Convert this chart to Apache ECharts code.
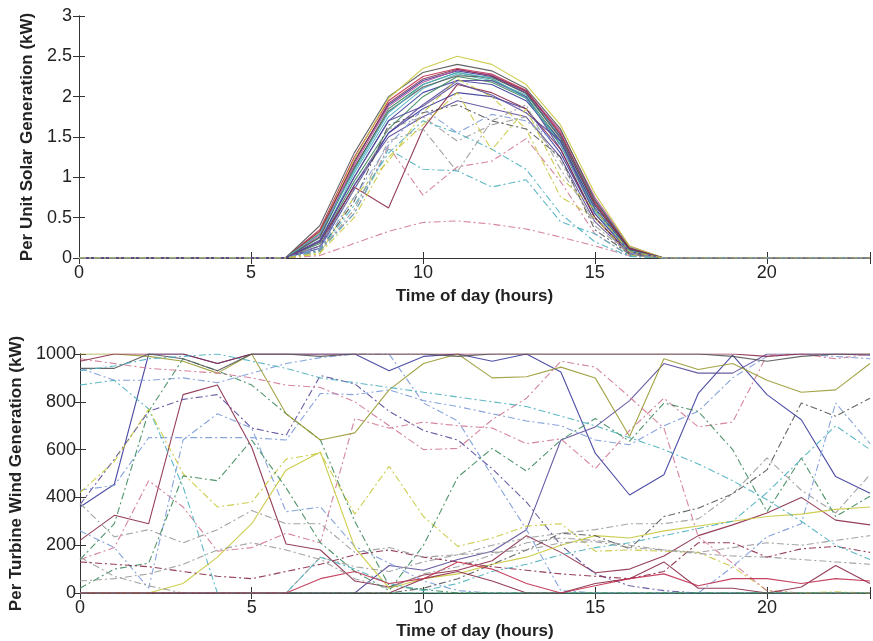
<!DOCTYPE html>
<html><head><meta charset="utf-8">
<script src="https://cdn.jsdelivr.net/npm/echarts@6/dist/echarts.min.js"></script>
<style>html,body{margin:0;padding:0;background:#fff;overflow:hidden}#c{width:873px;height:641px}</style>
</head><body><div id="c"></div>
<script>
// ---- data ----
const hours = [0,1,2,3,4,5,6,7,8,9,10,11,12,13,14,15,16,17,18,19,20,21,22,23];
const xTickLabels = [0,5,10,15,20];
const solarTickLabels = [0,0.5,1,1.5,2,2.5,3];
const windTickLabels = [0,200,400,600,800,1000];

// per unit solar generation (kW), one array per unit
const s01 = [0,0,0,0,0,0,0,0.30,1.20,1.90,2.20,2.32,2.25,2.05,1.50,0.65,0.12,0,0,0,0,0,0,0];
const s02 = [0,0,0,0,0,0,0,0.25,1.10,1.85,2.15,2.30,2.22,2.00,1.45,0.60,0.10,0,0,0,0,0,0,0];
const s03 = [0,0,0,0,0,0,0,0.35,1.25,1.95,2.25,2.35,2.28,2.08,1.55,0.70,0.13,0,0,0,0,0,0,0];
const s04 = [0,0,0,0,0,0,0,0.20,1.05,1.75,2.10,2.28,2.20,2.02,1.52,0.72,0.14,0,0,0,0,0,0,0];
const s05 = [0,0,0,0,0,0,0,0.28,1.15,1.88,2.18,2.33,2.27,2.06,1.58,0.75,0.15,0,0,0,0,0,0,0];
const s06 = [0,0,0,0,0,0,0,0.40,1.30,2.00,2.30,2.40,2.32,2.10,1.60,0.72,0.12,0,0,0,0,0,0,0];
const s07 = [0,0,0,0,0,0,0,0.32,1.22,1.98,2.35,2.50,2.40,2.15,1.65,0.80,0.15,0,0,0,0,0,0,0];
const s08 = [0,0,0,0,0,0,0,0.22,1.00,1.70,2.05,2.20,2.15,1.95,1.45,0.62,0.10,0,0,0,0,0,0,0];
const s09 = [0,0,0,0,0,0,0,0.18,0.95,1.60,2.00,2.25,2.18,1.98,1.40,0.55,0.08,0,0,0,0,0,0,0];
const s10 = [0,0,0,0,0,0,0,0.26,1.12,1.82,2.12,2.26,2.24,2.04,1.48,0.66,0.11,0,0,0,0,0,0,0];
const s11 = [0,0,0,0,0,0,0,0.15,0.90,1.55,1.90,2.20,2.20,2.00,1.35,0.50,0.06,0,0,0,0,0,0,0];
const s12 = [0,0,0,0,0,0,0,0.33,1.18,1.92,2.22,2.34,2.26,2.07,1.53,0.68,0.12,0,0,0,0,0,0,0];
const s13 = [0,0,0,0,0,0,0,0.30,1.08,1.80,2.15,2.30,2.23,1.98,1.42,0.58,0.09,0,0,0,0,0,0,0];
const s14 = [0,0,0,0,0,0,0,0.12,0.85,1.55,1.85,2.05,2.00,1.85,1.30,0.50,0.05,0,0,0,0,0,0,0];
const s15 = [0,0,0,0,0,0,0,0.15,0.90,1.50,1.75,1.95,1.85,1.75,1.25,0.45,0.05,0,0,0,0,0,0,0];
const s16 = [0,0,0,0,0,0,0,0.03,0.18,0.33,0.44,0.46,0.42,0.36,0.26,0.15,0.03,0,0,0,0,0,0,0];
const s17 = [0,0,0,0,0,0,0,0.20,0.88,0.62,1.60,2.15,2.05,1.85,1.35,0.50,0.06,0,0,0,0,0,0,0];
const s18 = [0,0,0,0,0,0,0,0.10,0.55,1.38,0.78,1.13,1.20,1.48,0.95,0.30,0.03,0,0,0,0,0,0,0];
const s19 = [0,0,0,0,0,0,0,0.08,0.55,1.35,1.10,1.08,0.88,0.97,0.45,0.30,0.03,0,0,0,0,0,0,0];
const s20 = [0,0,0,0,0,0,0,0.05,0.76,1.20,1.80,2.22,2.00,1.60,0.76,0.50,0.04,0,0,0,0,0,0,0];
const s21 = [0,0,0,0,0,0,0,0.15,0.85,1.60,1.75,1.45,1.65,1.75,1.20,0.40,0.05,0,0,0,0,0,0,0];
const s22 = [0,0,0,0,0,0,0,0.10,0.70,1.65,1.80,1.90,1.70,1.60,1.25,0.35,0.05,0,0,0,0,0,0,0];
const s23 = [0,0,0,0,0,0,0,0.12,0.75,1.40,1.85,1.55,1.78,1.70,1.40,0.55,0.06,0,0,0,0,0,0,0];
const s24 = [0,0,0,0,0,0,0,0.20,1.00,1.70,1.88,2.17,2.02,1.80,1.45,0.55,0.08,0,0,0,0,0,0,0];
const s25 = [0,0,0,0,0,0,0,0.10,0.65,1.30,1.70,1.55,1.35,1.10,0.55,0.20,0.02,0,0,0,0,0,0,0];
const s26 = [0,0,0,0,0,0,0,0.08,0.60,1.45,1.60,1.07,1.70,1.90,1.10,0.45,0.05,0,0,0,0,0,0,0];
const s27 = [0,0,0,0,0,0,0,0.06,0.50,1.25,1.65,2.05,1.34,1.85,1.00,0.60,0.08,0,0,0,0,0,0,0];

// per turbine wind generation (kW), one array per turbine
const w01 = [360,455,1000,1000,960,1000,1000,1000,1000,930,990,1000,970,1000,925,585,410,495,835,995,830,725,487,417];
const w02 = [220,325,290,830,870,610,205,180,50,25,75,95,135,240,170,85,100,155,240,285,335,400,305,285];
const w03 = [0,0,0,0,0,0,0,0,0,115,95,140,175,265,640,695,805,960,920,920,1000,1000,1000,995];
const w04 = [140,190,470,360,175,190,250,210,730,690,715,700,690,625,645,520,680,815,695,715,995,1000,980,1000];
const w05 = [260,190,20,640,750,690,340,360,195,125,50,10,0,0,0,0,0,0,0,110,235,290,795,625];
const w06 = [370,560,760,810,830,690,660,910,875,760,680,640,520,380,200,80,30,10,0,0,0,0,0,0];
const w07 = [940,890,890,900,880,920,960,985,1000,1000,795,720,490,265,10,0,0,0,0,0,0,0,0,0];
const w08 = [870,890,770,445,0,0,0,0,0,0,0,0,0,0,0,0,0,0,0,0,0,0,0,0];
const w09 = [430,450,650,650,650,650,640,835,830,850,805,780,750,720,700,640,620,700,760,900,990,1000,990,980];
const w10 = [140,290,760,980,930,870,750,640,300,30,15,0,0,0,0,0,0,0,0,0,0,0,0,0];
const w11 = [420,550,770,500,360,380,560,585,330,530,320,195,230,280,290,175,180,175,170,110,10,0,5,0];
const w12 = [0,0,0,40,150,290,515,590,190,20,60,80,120,150,200,240,230,260,280,300,320,330,350,360];
const w13 = [1000,1000,990,970,920,1000,750,640,670,850,960,1000,900,905,945,900,655,980,935,960,890,840,850,960];
const w14 = [980,960,940,930,920,900,870,860,800,700,600,605,725,815,970,945,820,690,235,125,10,0,0,0];
const w15 = [20,100,125,490,470,640,440,210,90,10,200,485,605,510,640,730,635,795,760,600,340,565,320,405];
const w16 = [150,70,30,0,0,0,0,150,110,90,130,160,200,230,250,265,290,290,310,415,565,430,335,495];
const w17 = [0,0,0,0,0,0,0,0,0,0,20,60,120,180,250,240,185,320,355,415,515,795,740,815];
const w18 = [130,120,110,90,70,60,90,120,160,180,150,130,110,95,80,70,60,90,210,210,150,185,195,170];
const w19 = [0,0,0,0,0,0,0,0,0,0,60,90,50,0,0,40,60,130,20,20,0,25,115,40];
const w20 = [0,0,0,0,0,0,0,0,0,0,0,0,0,0,0,0,0,0,0,0,0,0,0,0];
const w21 = [970,1000,1000,1000,960,1000,1000,1000,1000,1000,1000,1000,1000,1000,1000,1000,1000,1000,1000,1000,990,1000,1000,1000];
const w22 = [940,940,1000,980,930,1000,1000,990,1000,1000,1000,990,1000,1000,1000,1000,1000,1000,1000,990,970,990,1000,1000];
const w23 = [375,235,265,210,265,345,290,290,170,190,150,160,170,180,210,215,190,180,165,155,150,140,130,120];
const w24 = [0,0,0,0,0,0,0,150,100,40,10,40,90,120,160,190,210,240,270,300,420,560,700,600];
const w25 = [930,950,980,990,1000,970,940,900,880,860,840,820,800,780,740,700,650,600,540,470,390,300,200,140];
const w26 = [0,0,0,0,0,0,0,60,90,40,60,130,100,40,0,30,60,80,30,60,60,40,60,50];
const w27 = [50,60,80,120,180,210,180,140,60,20,80,110,160,210,230,220,200,180,170,190,210,200,220,240];

const solarData = [s01,s02,s03,s04,s05,s06,s07,s08,s09,s10,s11,s12,s13,s14,s15,s16,s17,s18,s19,s20,s21,s22,s23,s24,s25,s26,s27];
const windData = [w01,w02,w03,w04,w05,w06,w07,w08,w09,w10,w11,w12,w13,w14,w15,w16,w17,w18,w19,w20,w21,w22,w23,w24,w25,w26,w27];

// ---- styles ----
const C = {b:'#3c3c9c', g:'#3d8a5c', r:'#c03050', c:'#4eb0c0', m:'#b04c9c', y:'#c8c83c', k:'#555555',
           mr:'#8a2a48', pk:'#d07894', gy:'#9a9a9a', lb:'#7a9ad8', ol:'#9a9a34', pu:'#5a4a9a'};
const DD = [7,3,2,3];
const solarStyle = [
  ['b',0],['g',0],['r',0],['c',0],['m',0],['k',0],['y',0],['b',0],['g',0],['k',0],['pu',0],['mr',0],['c',0],['b',0],['pu',0],
  ['pk',1],['mr',0],['pk',1],['c',1],['y',1],['gy',1],['k',1],['lb',1],['pu',0],['c',1],['gy',1],['y',1]
];
const windStyle = [
  ['b',0],['mr',0],['pu',0],['pk',1],['lb',1],['pu',1],['lb',1],['c',1],['lb',1],['g',1],['y',1],['y',0],
  ['ol',0],['pk',1],['g',1],['gy',1],['k',1],['mr',1],['mr',0],['g',0],['mr',0],['k',0],['gy',1],['c',1],['c',1],['r',0],['gy',1]
];

const FONT = 'Liberation Sans, Arial, Helvetica, sans-serif';
const axisColor = '#333';

function mkSeries(data, style, xi, yi) {
  return data.map((arr, i) => ({
    type: 'line', xAxisIndex: xi, yAxisIndex: yi, showSymbol: false, silent: true,
    data: hours.map((h, j) => [h, arr[j]]),
    lineStyle: {width: 1.1, color: C[style[i][0]], type: style[i][1] ? DD : 'solid', opacity: 0.9},
    z: 2
  }));
}

function xAxisMain(gi, nameStr) {
  return {
    type: 'value', gridIndex: gi, min: 0, max: 23, interval: 5, position: 'bottom',
    name: nameStr, nameLocation: 'middle', nameGap: 30,
    nameTextStyle: {fontFamily: FONT, fontSize: 17, fontWeight: 'bold', color: '#222'},
    axisLine: {show: true, lineStyle: {color: axisColor, width: 1}},
    axisTick: {show: true, inside: true, length: 6, lineStyle: {color: axisColor}},
    axisLabel: {show: true, margin: 6, fontFamily: FONT, fontSize: 18, color: '#222',
      formatter: v => xTickLabels.includes(v) ? String(v) : ''},
    splitLine: {show: false}
  };
}
function xAxisTop(gi) {
  return {
    type: 'value', gridIndex: gi, min: 0, max: 23, interval: 5, position: 'top',
    axisLine: {show: true, lineStyle: {color: axisColor, width: 1}},
    axisTick: {show: true, inside: true, length: 6, lineStyle: {color: axisColor}},
    axisLabel: {show: false}, splitLine: {show: false}
  };
}
function yAxisMain(gi, max, interval, nameStr, gap, margin, labels) {
  return {
    type: 'value', gridIndex: gi, min: 0, max: max, interval: interval, position: 'left',
    name: nameStr, nameLocation: 'middle', nameGap: gap, nameRotate: 90,
    nameTextStyle: {fontFamily: FONT, fontSize: 17, fontWeight: 'bold', color: '#222'},
    axisLine: {show: true, lineStyle: {color: axisColor, width: 1}},
    axisTick: {show: true, inside: true, length: 6, lineStyle: {color: axisColor}},
    axisLabel: {show: true, margin: margin, fontFamily: FONT, fontSize: 18, color: '#222',
      formatter: v => { const f = labels.find(t => Math.abs(t - v) < 1e-9); return f === undefined ? '' : String(f); }},
    splitLine: {show: false}
  };
}
function yAxisRight(gi, max, interval) {
  return {
    type: 'value', gridIndex: gi, min: 0, max: max, interval: interval, position: 'right',
    axisLine: {show: true, lineStyle: {color: axisColor, width: 1}},
    axisTick: {show: true, inside: true, length: 6, lineStyle: {color: axisColor}},
    axisLabel: {show: false}, splitLine: {show: false}
  };
}

const chart = echarts.init(document.getElementById('c'), null, {renderer: 'canvas'});
chart.setOption({
  animation: false,
  backgroundColor: '#ffffff',
  grid: [
    {left: 79, right: -1, top: 16, height: 242},
    {left: 80, right: -1, top: 354, height: 239}
  ],
  xAxis: [
    xAxisMain(0, 'Time of day (hours)'),
    xAxisMain(1, 'Time of day (hours)'),
    xAxisTop(0), xAxisTop(1)
  ],
  yAxis: [
    yAxisMain(0, 3, 0.5, 'Per Unit Solar Generation (kW)', 37, 7, solarTickLabels),
    yAxisMain(1, 1000, 200, 'Per Turbine Wind Generation (kW)', 48, 4, windTickLabels),
    yAxisRight(0, 3, 0.5), yAxisRight(1, 1000, 200)
  ],
  series: [].concat(mkSeries(solarData, solarStyle, 0, 0), mkSeries(windData, windStyle, 1, 1))
});
</script>
</body></html>
